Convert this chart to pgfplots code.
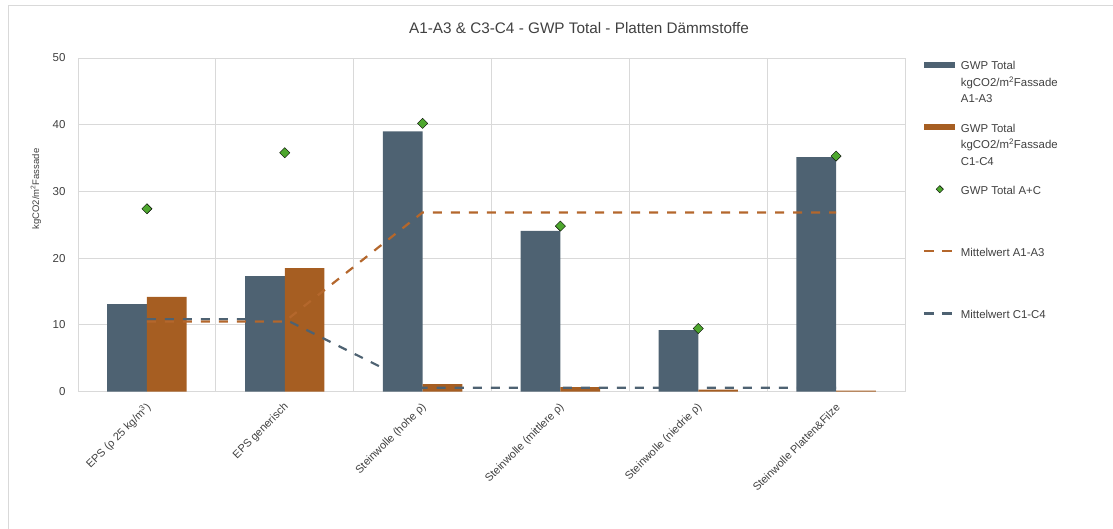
\documentclass[border=0pt]{standalone}
\usepackage{pgfplots}
\pgfplotsset{compat=1.18}
\usepackage{fontspec}
\setmainfont{Liberation Sans}
\definecolor{slate}{HTML}{4E6272}
\definecolor{rust}{HTML}{A65E22}
\definecolor{rustline}{HTML}{B4672C}
\definecolor{grn}{HTML}{4EA72E}
\definecolor{gridc}{HTML}{D9D9D9}
\definecolor{txt}{HTML}{404040}
\begin{document}
\begin{tikzpicture}
\path[use as bounding box] (0,0) rectangle (1113pt,-529pt);
\draw[gridc, line width=1pt] (8pt,-529pt) -- (8pt,-6pt) -- (1113pt,-6pt);
\begin{axis}[
  at={(78pt,-391.5pt)}, anchor=south west,
  scale only axis, width=827pt, height=333.5pt,
  xmin=-0.5, xmax=5.5, ymin=0, ymax=50,
  ytick={0,10,...,50},
  xtick={0,1,2,3,4,5},
  xticklabels={EPS (ρ 25 kg/m\textsuperscript{3}), EPS generisch, Steinwolle (hohe ρ), Steinwolle (mittlere ρ), Steinwolle (niedrie ρ), Steinwolle Platten\&Filze},
  minor xtick={-0.5,0.5,1.5,2.5,3.5,4.5,5.5},
  xminorgrids=true, ymajorgrids=true, xmajorgrids=false,
  grid style={gridc, line width=0.8pt},
  minor grid style={gridc, line width=0.8pt},
  axis line style={gridc, line width=0.8pt},
  major tick length=0pt, minor tick length=0pt,
  /pgf/number format/assume math mode=true,
  yticklabel style={font=\fontsize{11.5}{13}\selectfont, text=txt, xshift=-9pt},
  xticklabel style={xshift=2pt, yshift=-14pt, rotate=45, anchor=east, inner sep=0pt, font=\fontsize{11}{13}\selectfont, text=txt},
  title={A1-A3 \& C3-C4 - GWP Total - Platten Dämmstoffe},
  title style={at={(axis description cs:0.6058,1.056)}, anchor=base, font=\fontsize{15.3}{18}\selectfont, text=txt},
  ylabel={kgCO2/m\textsuperscript{2}Fassade},
  ylabel style={at={(axis description cs:-0.0508,0.607)}, anchor=center, font=\fontsize{9.5}{11}\selectfont, text=txt},
  legend style={at={(1.0214,1.036)}, anchor=north west, draw=none, fill=none, inner sep=0pt, outer sep=0pt,
    row sep=4.1pt, column sep=5pt, nodes={inner sep=0pt}, cells={anchor=west},
    font=\fontsize{11.4}{16.5}\selectfont, text=txt},
]
\addplot[ybar, bar width=0.288, bar shift=-0.144, fill=slate, draw=none,
  legend image code/.code={\path[draw=none, fill=none] (0pt,-29pt) rectangle (31pt,29pt); \fill[slate] (0pt,6.8pt) rectangle (31pt,13.2pt);}]
  coordinates {(0,13.1) (1,17.3) (2,39.0) (3,24.1) (4,9.2) (5,35.15)};
\addlegendentry{\parbox[c][58pt][t]{130pt}{\strut GWP Total\\kgCO2/m\textsuperscript{2}Fassade\\A1-A3}}
\addplot[ybar, bar width=0.288, bar shift=0.144, fill=rust, draw=none,
  legend image code/.code={\path[draw=none, fill=none] (0pt,-29pt) rectangle (31pt,29pt); \fill[rust] (0pt,6.8pt) rectangle (31pt,13.2pt);}]
  coordinates {(0,14.2) (1,18.5) (2,1.1) (3,0.65) (4,0.3) (5,0.15)};
\addlegendentry{\parbox[c][58pt][t]{130pt}{\strut GWP Total\\kgCO2/m\textsuperscript{2}Fassade\\C1-C4}}
\addplot[only marks, mark=square*, mark size=3.6pt, mark options={rotate=45, fill=grn, draw=none},
  legend image code/.code={\path[draw=none, fill=none] (0pt,-29pt) rectangle (31pt,29pt); \draw[only marks, mark=square*, mark size=2.6pt, mark options={rotate=45, fill=grn, draw=none}] plot coordinates {(16pt,10pt)};}]
  coordinates {(0,27.4) (1,35.8) (2,40.2) (3,24.8) (4,9.45) (5,35.3)};
\addlegendentry{\parbox[c][58pt][t]{130pt}{\strut GWP Total A+C}}
\addplot[rustline, line width=2.2pt, dash pattern=on 9pt off 9pt, mark=none, sharp plot,
  legend image code/.code={\path[draw=none, fill=none] (0pt,-29pt) rectangle (31pt,29pt); \draw[rustline, line width=2.2pt, dash pattern=on 10pt off 8pt] (0pt,10pt) -- (31pt,10pt);}]
  coordinates {(0,10.5) (1,10.5) (2,26.85) (3,26.85) (4,26.85) (5,26.85)};
\addlegendentry{\parbox[c][58pt][t]{130pt}{\strut Mittelwert A1-A3}}
\addplot[slate, line width=2.2pt, dash pattern=on 9pt off 9pt, mark=none, sharp plot,
  legend image code/.code={\path[draw=none, fill=none] (0pt,-29pt) rectangle (31pt,29pt); \draw[slate, line width=2.2pt, dash pattern=on 10pt off 8pt] (0pt,10pt) -- (31pt,10pt);}]
  coordinates {(0,10.85) (1,10.85) (2,0.55) (3,0.55) (4,0.55) (5,0.55)};
\addlegendentry{\parbox[c][58pt][t]{130pt}{\strut Mittelwert C1-C4}}
\end{axis}
\end{tikzpicture}
\end{document}
